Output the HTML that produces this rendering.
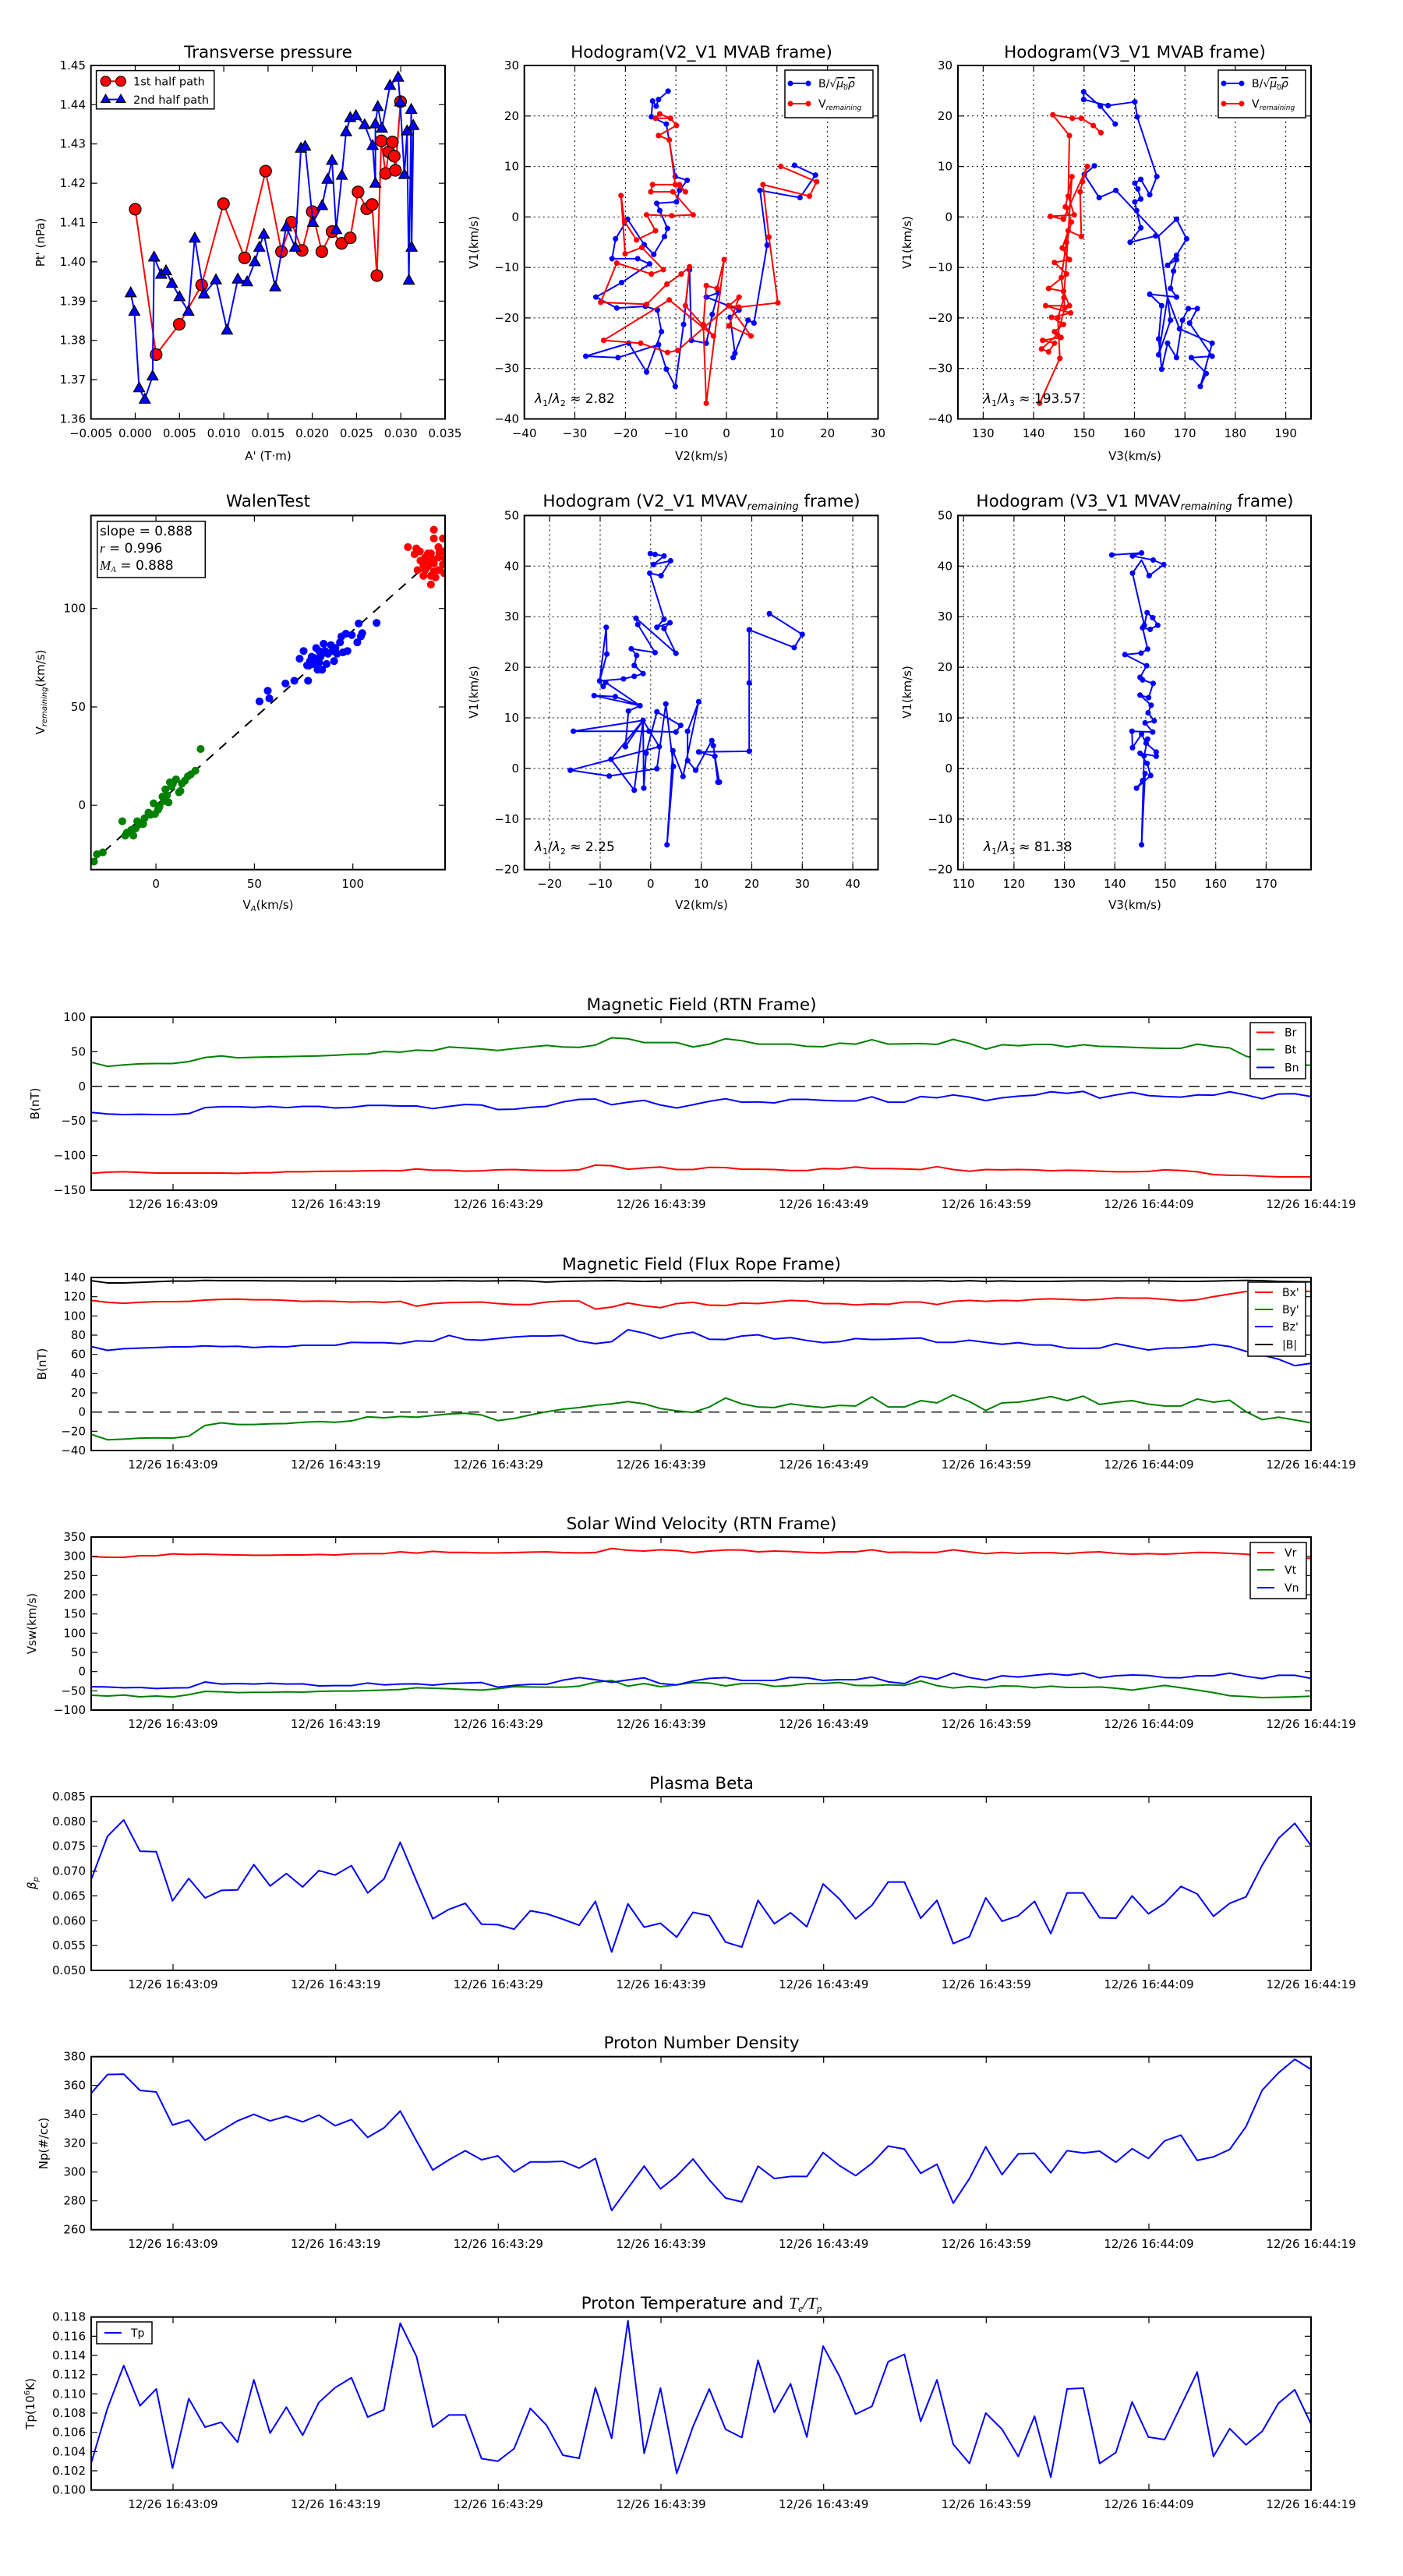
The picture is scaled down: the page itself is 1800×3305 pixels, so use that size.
<!DOCTYPE html>
<html><head><meta charset="utf-8"><style>
html,body{margin:0;padding:0;background:#fff;}
svg text{font-family:"DejaVu Sans","Liberation Sans",sans-serif;fill:#000;}
.t{font-size:15px}
.ti{font-size:21.5px}
.lb{font-size:15px}
.ln{fill:none;stroke-width:2;vector-effect:non-scaling-stroke;stroke-linejoin:round}
.ax{fill:none;stroke:#000;stroke-width:2}
.tk{fill:none;stroke:#000;stroke-width:1.2}
.gr{fill:none;stroke:#000;stroke-width:1;stroke-dasharray:2,4}
</style></head><body>
<svg xmlns="http://www.w3.org/2000/svg" xmlns:xlink="http://www.w3.org/1999/xlink" width="1800" height="3300" viewBox="0 0 1800 3300">
<defs>
<g id="rc" transform="scale(0.00008805,-0.00019846)"><circle r="7.5" fill="#f00" stroke="#000" stroke-width="1.2"/></g>
<g id="bt" transform="scale(0.00008805,-0.00019846)"><path d="M0,-7.5 L7,5 L-7,5Z" fill="#00f" stroke="#000" stroke-width="1.2"/></g>
<clipPath id="cA"><rect x="116.7" y="84" width="454.3" height="453.5"/></clipPath>
<clipPath id="cB"><rect x="672.7" y="84" width="453.8" height="453.5"/></clipPath>
<clipPath id="cC"><rect x="1229" y="84" width="453" height="453.5"/></clipPath>
<clipPath id="cD"><rect x="116.7" y="661.4" width="454.3" height="454.3"/></clipPath>
<clipPath id="cE"><rect x="672.7" y="661.4" width="453.8" height="454.3"/></clipPath>
<clipPath id="cF"><rect x="1229" y="661.4" width="453" height="454.3"/></clipPath>
<clipPath id="cT"><rect x="117" y="1290" width="1566" height="1920"/></clipPath>
</defs>

<!-- ============ Transverse pressure ============ -->
<text class="ti" x="344" y="74" text-anchor="middle">Transverse pressure</text>
<g clip-path="url(#cA)"><g transform="matrix(11357.5 0 0 -5038.9 173.5 7390.4)">
<polyline class="ln" stroke="#f00" points="0,1.4134 0.00236,1.3764 0.00497,1.3841 0.0075,1.3941 0.00997,1.4148 0.01236,1.401 0.01473,1.4231 0.01652,1.4026 0.01764,1.4101 0.01885,1.4029 0.02,1.4128 0.02108,1.4026 0.02223,1.4077 0.02331,1.4047 0.02429,1.4061 0.02517,1.4178 0.02615,1.4135 0.02676,1.4146 0.0273,1.3965 0.0278,1.4308 0.02828,1.4225 0.02865,1.428 0.02905,1.4305 0.02926,1.4269 0.02939,1.4233 0.02997,1.4408"/>
<use xlink:href="#rc" x="0" y="1.4134"/><use xlink:href="#rc" x="0.00236" y="1.3764"/><use xlink:href="#rc" x="0.00497" y="1.3841"/><use xlink:href="#rc" x="0.0075" y="1.3941"/><use xlink:href="#rc" x="0.00997" y="1.4148"/><use xlink:href="#rc" x="0.01236" y="1.401"/><use xlink:href="#rc" x="0.01473" y="1.4231"/><use xlink:href="#rc" x="0.01652" y="1.4026"/><use xlink:href="#rc" x="0.01764" y="1.4101"/><use xlink:href="#rc" x="0.01885" y="1.4029"/><use xlink:href="#rc" x="0.02" y="1.4128"/><use xlink:href="#rc" x="0.02108" y="1.4026"/><use xlink:href="#rc" x="0.02223" y="1.4077"/><use xlink:href="#rc" x="0.02331" y="1.4047"/><use xlink:href="#rc" x="0.02429" y="1.4061"/><use xlink:href="#rc" x="0.02517" y="1.4178"/><use xlink:href="#rc" x="0.02615" y="1.4135"/><use xlink:href="#rc" x="0.02676" y="1.4146"/><use xlink:href="#rc" x="0.0273" y="1.3965"/><use xlink:href="#rc" x="0.0278" y="1.4308"/><use xlink:href="#rc" x="0.02828" y="1.4225"/><use xlink:href="#rc" x="0.02865" y="1.428"/><use xlink:href="#rc" x="0.02905" y="1.4305"/><use xlink:href="#rc" x="0.02926" y="1.4269"/><use xlink:href="#rc" x="0.02939" y="1.4233"/><use xlink:href="#rc" x="0.02997" y="1.4408"/>
<polyline class="ln" stroke="#00f" points="-0.00051,1.3921 -0.0001,1.3874 0.00044,1.3679 0.00108,1.365 0.00196,1.3709 0.00213,1.4012 0.00294,1.3968 0.00348,1.3977 0.00416,1.3945 0.005,1.3911 0.00601,1.3874 0.00672,1.406 0.00777,1.3918 0.00912,1.3954 0.01037,1.3826 0.01159,1.3956 0.01264,1.3949 0.01351,1.4 0.01402,1.4037 0.01453,1.407 0.01581,1.3936 0.01706,1.4089 0.01807,1.4037 0.01872,1.4289 0.01919,1.4294 0.02007,1.41 0.02111,1.4143 0.02172,1.421 0.02223,1.4258 0.0227,1.4082 0.02334,1.422 0.02382,1.4331 0.02429,1.4367 0.02493,1.4372 0.02591,1.4349 0.02682,1.4296 0.02713,1.42 0.02713,1.4351 0.0274,1.4395 0.02787,1.434 0.02878,1.4449 0.0297,1.447 0.02993,1.4407 0.0304,1.4222 0.03071,1.4333 0.03091,1.3953 0.03118,1.4388 0.03122,1.4037 0.03142,1.4347"/>
<use xlink:href="#bt" x="-0.00051" y="1.3921"/><use xlink:href="#bt" x="-0.0001" y="1.3874"/><use xlink:href="#bt" x="0.00044" y="1.3679"/><use xlink:href="#bt" x="0.00108" y="1.365"/><use xlink:href="#bt" x="0.00196" y="1.3709"/><use xlink:href="#bt" x="0.00213" y="1.4012"/><use xlink:href="#bt" x="0.00294" y="1.3968"/><use xlink:href="#bt" x="0.00348" y="1.3977"/><use xlink:href="#bt" x="0.00416" y="1.3945"/><use xlink:href="#bt" x="0.005" y="1.3911"/><use xlink:href="#bt" x="0.00601" y="1.3874"/><use xlink:href="#bt" x="0.00672" y="1.406"/><use xlink:href="#bt" x="0.00777" y="1.3918"/><use xlink:href="#bt" x="0.00912" y="1.3954"/><use xlink:href="#bt" x="0.01037" y="1.3826"/><use xlink:href="#bt" x="0.01159" y="1.3956"/><use xlink:href="#bt" x="0.01264" y="1.3949"/><use xlink:href="#bt" x="0.01351" y="1.4"/><use xlink:href="#bt" x="0.01402" y="1.4037"/><use xlink:href="#bt" x="0.01453" y="1.407"/><use xlink:href="#bt" x="0.01581" y="1.3936"/><use xlink:href="#bt" x="0.01706" y="1.4089"/><use xlink:href="#bt" x="0.01807" y="1.4037"/><use xlink:href="#bt" x="0.01872" y="1.4289"/><use xlink:href="#bt" x="0.01919" y="1.4294"/><use xlink:href="#bt" x="0.02007" y="1.41"/><use xlink:href="#bt" x="0.02111" y="1.4143"/><use xlink:href="#bt" x="0.02172" y="1.421"/><use xlink:href="#bt" x="0.02223" y="1.4258"/><use xlink:href="#bt" x="0.0227" y="1.4082"/><use xlink:href="#bt" x="0.02334" y="1.422"/><use xlink:href="#bt" x="0.02382" y="1.4331"/><use xlink:href="#bt" x="0.02429" y="1.4367"/><use xlink:href="#bt" x="0.02493" y="1.4372"/><use xlink:href="#bt" x="0.02591" y="1.4349"/><use xlink:href="#bt" x="0.02682" y="1.4296"/><use xlink:href="#bt" x="0.02713" y="1.42"/><use xlink:href="#bt" x="0.02713" y="1.4351"/><use xlink:href="#bt" x="0.0274" y="1.4395"/><use xlink:href="#bt" x="0.02787" y="1.434"/><use xlink:href="#bt" x="0.02878" y="1.4449"/><use xlink:href="#bt" x="0.0297" y="1.447"/><use xlink:href="#bt" x="0.02993" y="1.4407"/><use xlink:href="#bt" x="0.0304" y="1.4222"/><use xlink:href="#bt" x="0.03071" y="1.4333"/><use xlink:href="#bt" x="0.03091" y="1.3953"/><use xlink:href="#bt" x="0.03118" y="1.4388"/><use xlink:href="#bt" x="0.03122" y="1.4037"/><use xlink:href="#bt" x="0.03142" y="1.4347"/>
</g></g>
<rect class="ax" x="116.7" y="84" width="454.3" height="453.5"/>
<path class="tk" d="M173.5,537.5v-8M230.3,537.5v-8M287.1,537.5v-8M343.9,537.5v-8M400.6,537.5v-8M457.4,537.5v-8M514.2,537.5v-8M173.5,84v8M230.3,84v8M287.1,84v8M343.9,84v8M400.6,84v8M457.4,84v8M514.2,84v8M116.7,487.1h8M116.7,436.7h8M116.7,386.3h8M116.7,335.9h8M116.7,285.5h8M116.7,235.1h8M116.7,184.7h8M116.7,134.3h8M571,487.1h-8M571,436.7h-8M571,386.3h-8M571,335.9h-8M571,285.5h-8M571,235.1h-8M571,184.7h-8M571,134.3h-8"/>
<g class="t" text-anchor="end"><text x="110" y="542.5">1.36</text><text x="110" y="492.1">1.37</text><text x="110" y="441.7">1.38</text><text x="110" y="391.3">1.39</text><text x="110" y="340.9">1.40</text><text x="110" y="290.5">1.41</text><text x="110" y="240.1">1.42</text><text x="110" y="189.7">1.43</text><text x="110" y="139.3">1.44</text><text x="110" y="89">1.45</text></g>
<g class="t" text-anchor="middle"><text x="116.7" y="561">−0.005</text><text x="173.5" y="561">0.000</text><text x="230.3" y="561">0.005</text><text x="287.1" y="561">0.010</text><text x="343.9" y="561">0.015</text><text x="400.6" y="561">0.020</text><text x="457.4" y="561">0.025</text><text x="514.2" y="561">0.030</text><text x="571" y="561">0.035</text></g>
<text class="lb" x="344" y="590" text-anchor="middle">A' (T·m)</text>
<text class="lb" transform="translate(57,311) rotate(-90)" text-anchor="middle">Pt' (nPa)</text>
<rect x="123.6" y="90.6" width="151.2" height="49.2" fill="#fff" stroke="#000" stroke-width="1.5"/>
<line x1="135.5" y1="104.3" x2="155" y2="104.3" stroke="#f00" stroke-width="2"/><circle cx="135.5" cy="104.3" r="6.5" fill="#f00" stroke="#000"/><circle cx="155" cy="104.3" r="6.5" fill="#f00" stroke="#000"/>
<text x="171" y="109.5" style="font-size:14.5px">1st half path</text>
<line x1="135.5" y1="127.6" x2="155" y2="127.6" stroke="#00f" stroke-width="2"/><path d="M135.5,121 l6,10.5 h-12z M155,121 l6,10.5 h-12z" fill="#00f" stroke="#000"/>
<text x="171" y="132.8" style="font-size:14.5px">2nd half path</text>

<!-- ============ Hodogram V2_V1 MVAB ============ -->
<text class="ti" x="900" y="74" text-anchor="middle">Hodogram(V2_V1 MVAB frame)</text>
<path class="gr" d="M737.5,84V537.5M802.4,84V537.5M867.2,84V537.5M932,84V537.5M996.8,84V537.5M1061.7,84V537.5M672.7,148.8H1126.5M672.7,213.6H1126.5M672.7,278.4H1126.5M672.7,343.1H1126.5M672.7,407.9H1126.5M672.7,472.7H1126.5"/>
<g clip-path="url(#cB)"><g transform="matrix(6.4829 0 0 -6.4786 932 278.4)">
<polyline class="ln" stroke="#00f" points="-11.55,24.92 -13.44,23.26 -13.91,21.95 -14.62,22.98 -14.85,19.84 -11.9,18.41 -10.13,8.01 -7.77,7.27 -9.3,5.27 -9.89,2.99 -13.79,2.7 -13.2,1.27 -11.67,-2.27 -12.26,-3.87 -14.38,-7.41 -16.27,-5.47 -19.57,-0.44 -21.94,-4.32 -22.64,-8.26 -17.57,-8.26 -15.21,-9.29 -20.76,-13 -25.83,-15.86 -21.7,-18.03 -16.03,-17.69 -13.67,-18.43 -12.85,-22.71 -15.8,-30.71 -19.34,-25 -27.84,-27.57 -21.46,-27.85 -13.44,-25.28 -11.9,-30.14 -10.13,-33.56 -8.48,-21.28 -7.3,-10.43 -6.94,-24.43 -3.99,-25 -2.81,-19.29 -1.63,-15 -3.99,-15.86 0.38,-17.57 2.5,-18.43 0.73,-19.86 1.68,-27 1.32,-27.85 4.27,-20.43 5.45,-21 8.05,-5.58 6.64,5.27 14.55,3.84 17.61,8.3 13.48,10.24"/>
<g fill="#00f"><circle cx="-11.55" cy="24.92" r="0.55"/><circle cx="-13.44" cy="23.26" r="0.55"/><circle cx="-13.91" cy="21.95" r="0.55"/><circle cx="-14.62" cy="22.98" r="0.55"/><circle cx="-14.85" cy="19.84" r="0.55"/><circle cx="-11.9" cy="18.41" r="0.55"/><circle cx="-10.13" cy="8.01" r="0.55"/><circle cx="-7.77" cy="7.27" r="0.55"/><circle cx="-9.3" cy="5.27" r="0.55"/><circle cx="-9.89" cy="2.99" r="0.55"/><circle cx="-13.79" cy="2.7" r="0.55"/><circle cx="-13.2" cy="1.27" r="0.55"/><circle cx="-11.67" cy="-2.27" r="0.55"/><circle cx="-12.26" cy="-3.87" r="0.55"/><circle cx="-14.38" cy="-7.41" r="0.55"/><circle cx="-16.27" cy="-5.47" r="0.55"/><circle cx="-19.57" cy="-0.44" r="0.55"/><circle cx="-21.94" cy="-4.32" r="0.55"/><circle cx="-22.64" cy="-8.26" r="0.55"/><circle cx="-17.57" cy="-8.26" r="0.55"/><circle cx="-15.21" cy="-9.29" r="0.55"/><circle cx="-20.76" cy="-13" r="0.55"/><circle cx="-25.83" cy="-15.86" r="0.55"/><circle cx="-21.7" cy="-18.03" r="0.55"/><circle cx="-16.03" cy="-17.69" r="0.55"/><circle cx="-13.67" cy="-18.43" r="0.55"/><circle cx="-12.85" cy="-22.71" r="0.55"/><circle cx="-15.8" cy="-30.71" r="0.55"/><circle cx="-19.34" cy="-25" r="0.55"/><circle cx="-27.84" cy="-27.57" r="0.55"/><circle cx="-21.46" cy="-27.85" r="0.55"/><circle cx="-13.44" cy="-25.28" r="0.55"/><circle cx="-11.9" cy="-30.14" r="0.55"/><circle cx="-10.13" cy="-33.56" r="0.55"/><circle cx="-8.48" cy="-21.28" r="0.55"/><circle cx="-7.3" cy="-10.43" r="0.55"/><circle cx="-6.94" cy="-24.43" r="0.55"/><circle cx="-3.99" cy="-25" r="0.55"/><circle cx="-2.81" cy="-19.29" r="0.55"/><circle cx="-1.63" cy="-15" r="0.55"/><circle cx="-3.99" cy="-15.86" r="0.55"/><circle cx="0.38" cy="-17.57" r="0.55"/><circle cx="2.5" cy="-18.43" r="0.55"/><circle cx="0.73" cy="-19.86" r="0.55"/><circle cx="1.68" cy="-27" r="0.55"/><circle cx="1.32" cy="-27.85" r="0.55"/><circle cx="4.27" cy="-20.43" r="0.55"/><circle cx="5.45" cy="-21" r="0.55"/><circle cx="8.05" cy="-5.58" r="0.55"/><circle cx="6.64" cy="5.27" r="0.55"/><circle cx="14.55" cy="3.84" r="0.55"/><circle cx="17.61" cy="8.3" r="0.55"/><circle cx="13.48" cy="10.24" r="0.55"/></g>
<polyline class="ln" stroke="#f00" points="-9.89,18.12 -11.07,19.55 -13.2,20.41 -14.03,19.55 -11.07,19.55 -9.89,18.12 -13.44,16.12 -11.31,15.27 -10.13,6.41 -8.12,4.99 -9.3,6.41 -14.62,6.41 -14.97,4.99 -10.6,4.99 -6.59,0.42 -10.84,0.25 -15.8,0.42 -14.03,-2.72 -17.8,-4.55 -20.17,-0.9 -20.87,4.24 -20.05,-7.29 -16.74,-6.04 -12.49,-10.43 -14.85,-11.29 -21.7,-9.12 -24.89,-16.89 -15.8,-17.29 -11.78,-13.29 -8.95,-11.29 -7.3,-9.86 -8.12,-17.57 -4.58,-21.57 -3.99,-13.58 -1.87,-14.15 -0.45,-8.44 -3.99,-36.88 -4.58,-21.28 -2.57,-23.57 -11.31,-16.43 -24.3,-24.43 -16.98,-25 -11.67,-26.83 -9.66,-26.43 2.5,-15.86 0.5,-21.57 4.86,-23.57 0.5,-17.57 2.5,-17.86 10.18,-17 8.41,-3.98 7.23,6.41 16.43,4.13 17.85,6.98 10.77,10.01"/>
<g fill="#f00"><circle cx="-9.89" cy="18.12" r="0.55"/><circle cx="-11.07" cy="19.55" r="0.55"/><circle cx="-13.2" cy="20.41" r="0.55"/><circle cx="-14.03" cy="19.55" r="0.55"/><circle cx="-13.44" cy="16.12" r="0.55"/><circle cx="-11.31" cy="15.27" r="0.55"/><circle cx="-10.13" cy="6.41" r="0.55"/><circle cx="-8.12" cy="4.99" r="0.55"/><circle cx="-9.3" cy="6.41" r="0.55"/><circle cx="-14.62" cy="6.41" r="0.55"/><circle cx="-14.97" cy="4.99" r="0.55"/><circle cx="-10.6" cy="4.99" r="0.55"/><circle cx="-6.59" cy="0.42" r="0.55"/><circle cx="-10.84" cy="0.25" r="0.55"/><circle cx="-15.8" cy="0.42" r="0.55"/><circle cx="-14.03" cy="-2.72" r="0.55"/><circle cx="-17.8" cy="-4.55" r="0.55"/><circle cx="-20.17" cy="-0.9" r="0.55"/><circle cx="-20.87" cy="4.24" r="0.55"/><circle cx="-20.05" cy="-7.29" r="0.55"/><circle cx="-16.74" cy="-6.04" r="0.55"/><circle cx="-12.49" cy="-10.43" r="0.55"/><circle cx="-14.85" cy="-11.29" r="0.55"/><circle cx="-21.7" cy="-9.12" r="0.55"/><circle cx="-24.89" cy="-16.89" r="0.55"/><circle cx="-15.8" cy="-17.29" r="0.55"/><circle cx="-11.78" cy="-13.29" r="0.55"/><circle cx="-8.95" cy="-11.29" r="0.55"/><circle cx="-7.3" cy="-9.86" r="0.55"/><circle cx="-8.12" cy="-17.57" r="0.55"/><circle cx="-4.58" cy="-21.57" r="0.55"/><circle cx="-3.99" cy="-13.58" r="0.55"/><circle cx="-1.87" cy="-14.15" r="0.55"/><circle cx="-0.45" cy="-8.44" r="0.55"/><circle cx="-3.99" cy="-36.88" r="0.55"/><circle cx="-4.58" cy="-21.28" r="0.55"/><circle cx="-2.57" cy="-23.57" r="0.55"/><circle cx="-11.31" cy="-16.43" r="0.55"/><circle cx="-24.3" cy="-24.43" r="0.55"/><circle cx="-16.98" cy="-25" r="0.55"/><circle cx="-11.67" cy="-26.83" r="0.55"/><circle cx="-9.66" cy="-26.43" r="0.55"/><circle cx="2.5" cy="-15.86" r="0.55"/><circle cx="0.5" cy="-21.57" r="0.55"/><circle cx="4.86" cy="-23.57" r="0.55"/><circle cx="0.5" cy="-17.57" r="0.55"/><circle cx="2.5" cy="-17.86" r="0.55"/><circle cx="10.18" cy="-17" r="0.55"/><circle cx="8.41" cy="-3.98" r="0.55"/><circle cx="7.23" cy="6.41" r="0.55"/><circle cx="16.43" cy="4.13" r="0.55"/><circle cx="17.85" cy="6.98" r="0.55"/><circle cx="10.77" cy="10.01" r="0.55"/></g>
</g></g>
<rect class="ax" x="672.7" y="84" width="453.8" height="453.5"/>
<path class="tk" d="M737.5,537.5v-8M802.4,537.5v-8M867.2,537.5v-8M932,537.5v-8M996.8,537.5v-8M1061.7,537.5v-8M737.5,84v8M802.4,84v8M867.2,84v8M932,84v8M996.8,84v8M1061.7,84v8M672.7,148.8h8M672.7,213.6h8M672.7,278.4h8M672.7,343.1h8M672.7,407.9h8M672.7,472.7h8M1126.5,148.8h-8M1126.5,213.6h-8M1126.5,278.4h-8M1126.5,343.1h-8M1126.5,407.9h-8M1126.5,472.7h-8"/>
<g class="t" text-anchor="end"><text x="666" y="89">30</text><text x="666" y="153.8">20</text><text x="666" y="218.6">10</text><text x="666" y="283.4">0</text><text x="666" y="348.1">−10</text><text x="666" y="412.9">−20</text><text x="666" y="477.7">−30</text><text x="666" y="542.5">−40</text></g>
<g class="t" text-anchor="middle"><text x="672.7" y="561">−40</text><text x="737.5" y="561">−30</text><text x="802.4" y="561">−20</text><text x="867.2" y="561">−10</text><text x="932" y="561">0</text><text x="996.8" y="561">10</text><text x="1061.7" y="561">20</text><text x="1126.5" y="561">30</text></g>
<text class="lb" x="900" y="590" text-anchor="middle">V2(km/s)</text>
<text class="lb" transform="translate(613,311) rotate(-90)" text-anchor="middle">V1(km/s)</text>
<text x="686" y="517" style="font-size:17px"><tspan font-style="italic">λ</tspan><tspan font-size="11" dy="4">1</tspan><tspan dy="-4">/</tspan><tspan font-style="italic">λ</tspan><tspan font-size="11" dy="4">2</tspan><tspan dy="-4"> ≈ 2.82</tspan></text>
<rect x="1007" y="90" width="113" height="61" fill="#fff" stroke="#000" stroke-width="1.5"/>
<line x1="1014" y1="107" x2="1037" y2="107" stroke="#00f" stroke-width="2"/><circle cx="1014" cy="107" r="3.5" fill="#00f"/><circle cx="1037" cy="107" r="3.5" fill="#00f"/>
<text x="1050" y="112" style="font-size:14px">B/√<tspan text-decoration="overline" font-style="italic">μ<tspan font-size="9" dy="3">0</tspan><tspan dy="-3">ρ</tspan></tspan></text>
<line x1="1014" y1="133" x2="1037" y2="133" stroke="#f00" stroke-width="2"/><circle cx="1014" cy="133" r="3.5" fill="#f00"/><circle cx="1037" cy="133" r="3.5" fill="#f00"/>
<text x="1050" y="138" style="font-size:14px">V<tspan font-size="9" font-style="italic" dy="3">remaining</tspan></text>

<!-- ============ Hodogram V3_V1 MVAB ============ -->
<text class="ti" x="1456" y="74" text-anchor="middle">Hodogram(V3_V1 MVAB frame)</text>
<path class="gr" d="M1261.4,84V537.5M1326.1,84V537.5M1390.8,84V537.5M1455.5,84V537.5M1520.2,84V537.5M1584.9,84V537.5M1649.6,84V537.5M1229,148.8H1682M1229,213.6H1682M1229,278.4H1682M1229,343.1H1682M1229,407.9H1682M1229,472.7H1682"/>
<g clip-path="url(#cC)"><g transform="matrix(6.4714 0 0 -6.4786 420.1 278.4)">
<polyline class="ln" stroke="#00f" points="156.18,18.41 153.23,21.95 149.93,24.8 149.93,23.26 154.76,22.06 160.07,22.8 160.54,19.83 164.43,8.01 163.02,4.41 161.25,7.44 160.07,6.7 160.66,5.56 161.25,3.56 160.07,2.99 160.42,1.27 161.25,-2.15 159.13,-5.01 164.2,-3.75 164.79,-3.75 168.33,-0.44 170.33,-4.32 168.33,-7.58 166.56,-9.58 168.33,-8.44 167.74,-10.72 167.15,-14.15 168.33,-15.86 163.02,-15.29 165.38,-17.57 164.79,-24.14 165.38,-30.14 166.56,-25 168.33,-27.85 169.5,-20.43 170.68,-18.14 172.45,-18.14 170.92,-21 175.4,-27.57 171.27,-27.85 174.22,-31 173.04,-33.56 175.4,-25 168.92,-22.14 166.56,-15.86 164.79,-27.28 167.15,-20.43 164.79,-3.75 156.3,5.27 153,3.84 150.05,8.41 152.05,10.13"/>
<g fill="#00f"><circle cx="156.18" cy="18.41" r="0.55"/><circle cx="153.23" cy="21.95" r="0.55"/><circle cx="149.93" cy="24.8" r="0.55"/><circle cx="149.93" cy="23.26" r="0.55"/><circle cx="154.76" cy="22.06" r="0.55"/><circle cx="160.07" cy="22.8" r="0.55"/><circle cx="160.54" cy="19.83" r="0.55"/><circle cx="164.43" cy="8.01" r="0.55"/><circle cx="163.02" cy="4.41" r="0.55"/><circle cx="161.25" cy="7.44" r="0.55"/><circle cx="160.07" cy="6.7" r="0.55"/><circle cx="160.66" cy="5.56" r="0.55"/><circle cx="161.25" cy="3.56" r="0.55"/><circle cx="160.07" cy="2.99" r="0.55"/><circle cx="160.42" cy="1.27" r="0.55"/><circle cx="161.25" cy="-2.15" r="0.55"/><circle cx="159.13" cy="-5.01" r="0.55"/><circle cx="164.2" cy="-3.75" r="0.55"/><circle cx="168.33" cy="-0.44" r="0.55"/><circle cx="170.33" cy="-4.32" r="0.55"/><circle cx="168.33" cy="-7.58" r="0.55"/><circle cx="166.56" cy="-9.58" r="0.55"/><circle cx="168.33" cy="-8.44" r="0.55"/><circle cx="167.74" cy="-10.72" r="0.55"/><circle cx="167.15" cy="-14.15" r="0.55"/><circle cx="168.33" cy="-15.86" r="0.55"/><circle cx="163.02" cy="-15.29" r="0.55"/><circle cx="165.38" cy="-17.57" r="0.55"/><circle cx="164.79" cy="-24.14" r="0.55"/><circle cx="165.38" cy="-30.14" r="0.55"/><circle cx="166.56" cy="-25" r="0.55"/><circle cx="168.33" cy="-27.85" r="0.55"/><circle cx="169.5" cy="-20.43" r="0.55"/><circle cx="170.68" cy="-18.14" r="0.55"/><circle cx="172.45" cy="-18.14" r="0.55"/><circle cx="170.92" cy="-21" r="0.55"/><circle cx="175.4" cy="-27.57" r="0.55"/><circle cx="171.27" cy="-27.85" r="0.55"/><circle cx="174.22" cy="-31" r="0.55"/><circle cx="173.04" cy="-33.56" r="0.55"/><circle cx="175.4" cy="-25" r="0.55"/><circle cx="168.92" cy="-22.14" r="0.55"/><circle cx="164.79" cy="-27.28" r="0.55"/><circle cx="167.15" cy="-20.43" r="0.55"/><circle cx="156.3" cy="5.27" r="0.55"/><circle cx="153" cy="3.84" r="0.55"/><circle cx="150.05" cy="8.41" r="0.55"/><circle cx="152.05" cy="10.13" r="0.55"/></g>
<polyline class="ln" stroke="#f00" points="153.35,16.69 151.82,18.12 149.46,19.55 147.69,19.55 143.8,20.24 147.1,16.12 146.86,4.13 148.04,0.42 143.33,0.13 145.92,-0.44 150.64,10.01 149.69,6.98 149.22,4.99 149.46,-3.87 146.86,-2.72 145.68,-6.15 147.1,-8.44 144.14,-9.01 146.51,-11.29 142.97,-14.15 145.92,-14.72 147.1,-17.57 142.38,-17.57 147.33,-19 143.56,-19.86 145.92,-21.28 144.14,-22.71 145.44,-23.86 141.79,-24.43 144.14,-25 142.97,-26.71 141.56,-26.14 144.73,-23.28 146.2,-18 145.5,-12 146.5,-5 147.5,-1 146.3,2 147.6,8 146,-16 144.8,-20 145.2,-28 141.2,-36.88"/>
<g fill="#f00"><circle cx="153.35" cy="16.69" r="0.55"/><circle cx="151.82" cy="18.12" r="0.55"/><circle cx="149.46" cy="19.55" r="0.55"/><circle cx="147.69" cy="19.55" r="0.55"/><circle cx="143.8" cy="20.24" r="0.55"/><circle cx="147.1" cy="16.12" r="0.55"/><circle cx="146.86" cy="4.13" r="0.55"/><circle cx="148.04" cy="0.42" r="0.55"/><circle cx="143.33" cy="0.13" r="0.55"/><circle cx="145.92" cy="-0.44" r="0.55"/><circle cx="150.64" cy="10.01" r="0.55"/><circle cx="149.69" cy="6.98" r="0.55"/><circle cx="149.22" cy="4.99" r="0.55"/><circle cx="149.46" cy="-3.87" r="0.55"/><circle cx="146.86" cy="-2.72" r="0.55"/><circle cx="145.68" cy="-6.15" r="0.55"/><circle cx="147.1" cy="-8.44" r="0.55"/><circle cx="144.14" cy="-9.01" r="0.55"/><circle cx="146.51" cy="-11.29" r="0.55"/><circle cx="142.97" cy="-14.15" r="0.55"/><circle cx="145.92" cy="-14.72" r="0.55"/><circle cx="147.1" cy="-17.57" r="0.55"/><circle cx="142.38" cy="-17.57" r="0.55"/><circle cx="147.33" cy="-19" r="0.55"/><circle cx="143.56" cy="-19.86" r="0.55"/><circle cx="145.92" cy="-21.28" r="0.55"/><circle cx="144.14" cy="-22.71" r="0.55"/><circle cx="145.44" cy="-23.86" r="0.55"/><circle cx="141.79" cy="-24.43" r="0.55"/><circle cx="144.14" cy="-25" r="0.55"/><circle cx="142.97" cy="-26.71" r="0.55"/><circle cx="141.56" cy="-26.14" r="0.55"/><circle cx="144.73" cy="-23.28" r="0.55"/><circle cx="146.2" cy="-18" r="0.55"/><circle cx="145.5" cy="-12" r="0.55"/><circle cx="146.5" cy="-5" r="0.55"/><circle cx="147.5" cy="-1" r="0.55"/><circle cx="146.3" cy="2" r="0.55"/><circle cx="147.6" cy="8" r="0.55"/><circle cx="146" cy="-16" r="0.55"/><circle cx="144.8" cy="-20" r="0.55"/><circle cx="145.2" cy="-28" r="0.55"/><circle cx="141.2" cy="-36.88" r="0.55"/></g>
</g></g>
<rect class="ax" x="1229" y="84" width="453" height="453.5"/>
<path class="tk" d="M1261.4,537.5v-8M1326.1,537.5v-8M1390.8,537.5v-8M1455.5,537.5v-8M1520.2,537.5v-8M1584.9,537.5v-8M1649.6,537.5v-8M1261.4,84v8M1326.1,84v8M1390.8,84v8M1455.5,84v8M1520.2,84v8M1584.9,84v8M1649.6,84v8M1229,148.8h8M1229,213.6h8M1229,278.4h8M1229,343.1h8M1229,407.9h8M1229,472.7h8M1682,148.8h-8M1682,213.6h-8M1682,278.4h-8M1682,343.1h-8M1682,407.9h-8M1682,472.7h-8"/>
<g class="t" text-anchor="end"><text x="1222" y="89">30</text><text x="1222" y="153.8">20</text><text x="1222" y="218.6">10</text><text x="1222" y="283.4">0</text><text x="1222" y="348.1">−10</text><text x="1222" y="412.9">−20</text><text x="1222" y="477.7">−30</text><text x="1222" y="542.5">−40</text></g>
<g class="t" text-anchor="middle"><text x="1261.4" y="561">130</text><text x="1326.1" y="561">140</text><text x="1390.8" y="561">150</text><text x="1455.5" y="561">160</text><text x="1520.2" y="561">170</text><text x="1584.9" y="561">180</text><text x="1649.6" y="561">190</text></g>
<text class="lb" x="1456" y="590" text-anchor="middle">V3(km/s)</text>
<text class="lb" transform="translate(1169,311) rotate(-90)" text-anchor="middle">V1(km/s)</text>
<text x="1262" y="517" style="font-size:17px"><tspan font-style="italic">λ</tspan><tspan font-size="11" dy="4">1</tspan><tspan dy="-4">/</tspan><tspan font-style="italic">λ</tspan><tspan font-size="11" dy="4">3</tspan><tspan dy="-4"> ≈ 193.57</tspan></text>
<rect x="1563" y="90" width="112" height="61" fill="#fff" stroke="#000" stroke-width="1.5"/>
<line x1="1570" y1="107" x2="1593" y2="107" stroke="#00f" stroke-width="2"/><circle cx="1570" cy="107" r="3.5" fill="#00f"/><circle cx="1593" cy="107" r="3.5" fill="#00f"/>
<text x="1606" y="112" style="font-size:14px">B/√<tspan text-decoration="overline" font-style="italic">μ<tspan font-size="9" dy="3">0</tspan><tspan dy="-3">ρ</tspan></tspan></text>
<line x1="1570" y1="133" x2="1593" y2="133" stroke="#f00" stroke-width="2"/><circle cx="1570" cy="133" r="3.5" fill="#f00"/><circle cx="1593" cy="133" r="3.5" fill="#f00"/>
<text x="1606" y="138" style="font-size:14px">V<tspan font-size="9" font-style="italic" dy="3">remaining</tspan></text>

<!-- ============ Walen ============ -->
<text class="ti" x="344" y="650" text-anchor="middle">WalenTest</text>
<g clip-path="url(#cD)">
<line x1="116.8" y1="1107.2" x2="571.3" y2="703.7" stroke="#000" stroke-width="2" stroke-dasharray="12,10"/>
<g transform="matrix(2.525 0 0 -2.525 200.1 1033.2)">
<g fill="#008000"><circle cx="22.7" cy="28.6" r="2"/><circle cx="20" cy="17.6" r="2"/><circle cx="17.7" cy="15.7" r="2"/><circle cx="16.2" cy="14.7" r="2"/><circle cx="14.7" cy="12.5" r="2"/><circle cx="12.4" cy="7.3" r="2"/><circle cx="10.2" cy="13.2" r="2"/><circle cx="7.9" cy="9.5" r="2"/><circle cx="6.4" cy="1.5" r="2"/><circle cx="4.8" cy="8.1" r="2"/><circle cx="5.6" cy="5.1" r="2"/><circle cx="3.3" cy="4.4" r="2"/><circle cx="1.1" cy="-2.2" r="2"/><circle cx="-1.2" cy="1" r="2"/><circle cx="-0.5" cy="-4.4" r="2"/><circle cx="-3.8" cy="-3.7" r="2"/><circle cx="-5.8" cy="-6.6" r="2"/><circle cx="-8" cy="-9.5" r="2"/><circle cx="-9.5" cy="-8.1" r="2"/><circle cx="-12.6" cy="-12.5" r="2"/><circle cx="-11.5" cy="-15.4" r="2"/><circle cx="-14.8" cy="-13.9" r="2"/><circle cx="-15.6" cy="-15.4" r="2"/><circle cx="-17.1" cy="-8.1" r="2"/><circle cx="-27" cy="-23.9" r="2"/><circle cx="-30" cy="-24.9" r="2"/><circle cx="-31.5" cy="-28.6" r="2"/><circle cx="11.7" cy="6.6" r="2"/><circle cx="13.2" cy="11" r="2"/><circle cx="8.6" cy="11" r="2"/><circle cx="7.1" cy="11.7" r="2"/><circle cx="4.1" cy="2.2" r="2"/><circle cx="1.8" cy="-0.7" r="2"/><circle cx="-2.7" cy="-4.8" r="2"/><circle cx="-6.5" cy="-9.5" r="2"/><circle cx="-10.3" cy="-11.7" r="2"/></g>
<g fill="#00f"><circle cx="52.6" cy="52.8" r="2"/><circle cx="56.8" cy="58.2" r="2"/><circle cx="57.6" cy="54.3" r="2"/><circle cx="65.8" cy="61.9" r="2"/><circle cx="70.3" cy="63.3" r="2"/><circle cx="77.3" cy="63.3" r="2"/><circle cx="73" cy="74.5" r="2"/><circle cx="75" cy="78.4" r="2"/><circle cx="77.6" cy="71.1" r="2"/><circle cx="79.1" cy="75.5" r="2"/><circle cx="81.4" cy="79.9" r="2"/><circle cx="82.1" cy="68.9" r="2"/><circle cx="84.4" cy="68.9" r="2"/><circle cx="83.6" cy="75.5" r="2"/><circle cx="85.2" cy="82.1" r="2"/><circle cx="86.7" cy="71.8" r="2"/><circle cx="87.4" cy="77" r="2"/><circle cx="88.9" cy="81.4" r="2"/><circle cx="90.5" cy="73.3" r="2"/><circle cx="92" cy="77" r="2"/><circle cx="93.5" cy="82.8" r="2"/><circle cx="95" cy="77.7" r="2"/><circle cx="97.3" cy="78.4" r="2"/><circle cx="94.2" cy="85.8" r="2"/><circle cx="96.5" cy="87.2" r="2"/><circle cx="99.5" cy="86.5" r="2"/><circle cx="102.3" cy="82.8" r="2"/><circle cx="104.1" cy="85.8" r="2"/><circle cx="104.8" cy="87.5" r="2"/><circle cx="103" cy="92.4" r="2"/><circle cx="112.1" cy="92.7" r="2"/><circle cx="80.6" cy="74.8" r="2"/><circle cx="82.9" cy="78.4" r="2"/><circle cx="85.9" cy="78.4" r="2"/><circle cx="89.7" cy="78.4" r="2"/><circle cx="91.2" cy="79.9" r="2"/><circle cx="78.3" cy="73.3" r="2"/><circle cx="76.8" cy="71.1" r="2"/><circle cx="79.8" cy="71.8" r="2"/><circle cx="82.9" cy="72.6" r="2"/></g>
<g fill="#f00"><circle cx="128" cy="131.2" r="2"/><circle cx="131.4" cy="127.6" r="2"/><circle cx="134.1" cy="129" r="2"/><circle cx="132.9" cy="119.5" r="2"/><circle cx="135.9" cy="116.6" r="2"/><circle cx="139.7" cy="112.2" r="2"/><circle cx="141.2" cy="140" r="2"/><circle cx="141.2" cy="135.6" r="2"/><circle cx="143.5" cy="131.2" r="2"/><circle cx="145.8" cy="135.6" r="2"/><circle cx="136.7" cy="125.9" r="2"/><circle cx="138.2" cy="121.4" r="2"/><circle cx="141.2" cy="122.9" r="2"/><circle cx="143.5" cy="125.9" r="2"/><circle cx="144.2" cy="119.5" r="2"/><circle cx="139.7" cy="116.6" r="2"/><circle cx="142" cy="115.8" r="2"/><circle cx="135.9" cy="122.1" r="2"/><circle cx="134.4" cy="124.3" r="2"/><circle cx="138.2" cy="128" r="2"/><circle cx="139.7" cy="128" r="2"/><circle cx="146.3" cy="129" r="2"/><circle cx="145.8" cy="122.4" r="2"/><circle cx="143.5" cy="119.5" r="2"/><circle cx="136.7" cy="119.5" r="2"/><circle cx="141.2" cy="118.8" r="2"/><circle cx="146.5" cy="117.9" r="2"/><circle cx="132.3" cy="130.5" r="2"/><circle cx="137.5" cy="124.5" r="2"/><circle cx="140.5" cy="125" r="2"/><circle cx="144" cy="128.5" r="2"/><circle cx="146.8" cy="125.5" r="2"/></g>
</g></g>
<rect class="ax" x="116.7" y="661.4" width="454.3" height="454.3"/>
<path class="tk" d="M200.1,1115.7v-8M326.4,1115.7v-8M452.7,1115.7v-8M200.1,661.4v8M326.4,661.4v8M452.7,661.4v8M116.7,1033.2h8M116.7,907h8M116.7,780.7h8M571,1033.2h-8M571,907h-8M571,780.7h-8"/>
<g class="t" text-anchor="end"><text x="110" y="1038.2">0</text><text x="110" y="912">50</text><text x="110" y="785.7">100</text></g>
<g class="t" text-anchor="middle"><text x="200.1" y="1139">0</text><text x="326.4" y="1139">50</text><text x="452.7" y="1139">100</text></g>
<text class="lb" x="344" y="1166" text-anchor="middle">V<tspan font-size="10" font-style="italic" dy="3">A</tspan><tspan dy="-3">(km/s)</tspan></text>
<text class="lb" transform="translate(57,888) rotate(-90)" text-anchor="middle">V<tspan font-size="10" font-style="italic" dy="3">remaining</tspan><tspan dy="-3">(km/s)</tspan></text>
<rect x="124.8" y="668.8" width="138.5" height="72.2" fill="#fff" stroke="#000" stroke-width="1.5"/>
<text x="128" y="687" style="font-size:17px">slope = 0.888</text>
<text x="128" y="709" style="font-size:17px"><tspan font-style="italic" font-family="Liberation Serif, serif">r</tspan> = 0.996</text>
<text x="128" y="731" style="font-size:17px"><tspan font-style="italic" font-family="Liberation Serif, serif">M<tspan font-size="11" dy="3">A</tspan></tspan><tspan dy="-3"> = 0.888</tspan></text>

<!-- ============ Hodogram V2 MVAV ============ -->
<text class="ti" x="900" y="650" text-anchor="middle">Hodogram (V2_V1 MVAV<tspan font-size="13" font-style="italic" dy="4">remaining</tspan><tspan dy="-4"> frame)</tspan></text>
<path class="gr" d="M705.1,661.4V1115.7M770,661.4V1115.7M834.8,661.4V1115.7M899.6,661.4V1115.7M964.5,661.4V1115.7M1029.3,661.4V1115.7M1094.1,661.4V1115.7M672.7,726.3H1126.5M672.7,791.2H1126.5M672.7,856.1H1126.5M672.7,921H1126.5M672.7,985.9H1126.5M672.7,1050.8H1126.5"/>
<g clip-path="url(#cE)"><g transform="matrix(6.4829 0 0 -6.49 834.8 985.9)">
<polyline class="ln" stroke="#00f" points="-0.07,42.47 0.87,42.3 2.64,42 0.52,40.3 3.94,41.05 2.05,38.1 -0.19,38.6 2.64,29.5 1.23,27.9 3.82,28.8 2.64,27.65 5,22.75 -2.9,29.7 -2.55,28.45 0.87,22.9 -3.84,23.65 -2.78,22.35 -3.25,20.35 -1.5,18.75 -3.25,18.2 -5.38,17.7 -10.1,17.3 -8.8,27.9 -8.68,22.6 -10.1,17.3 -9.4,16.2 -8.9,17 -2.1,12.4 -7,14.2 -11.2,14.4 -2.1,12.4 -4.4,11.35 -5,4.3 -1.5,9.5 -15.3,7.35 -0.3,7.35 5,7.2 5.94,8.5 1.23,11.2 -0.9,3 -1.37,-3.9 -1.5,9.5 -3.25,-4.3 -7.85,1.8 -1.5,9.5 1.7,4.3 -15.9,-0.35 -8.2,-1.5 1.23,-0.05 3,12.75 4.5,0.4 3.23,-15.1 4.4,3.5 6.4,-1.6 9.5,13.2 7.3,7.35 7.3,1.55 8.9,-0.35 12.1,5.5 12.4,4.5 13.3,-2.7 13.6,-2.7 12.7,2.4 9.5,3.25 19.5,3.4 19.5,16.9 19.5,27.4 28.4,23.9 30,26.5 23.5,30.6"/>
<g fill="#00f"><circle cx="-0.07" cy="42.47" r="0.55"/><circle cx="0.87" cy="42.3" r="0.55"/><circle cx="2.64" cy="42" r="0.55"/><circle cx="0.52" cy="40.3" r="0.55"/><circle cx="3.94" cy="41.05" r="0.55"/><circle cx="2.05" cy="38.1" r="0.55"/><circle cx="-0.19" cy="38.6" r="0.55"/><circle cx="2.64" cy="29.5" r="0.55"/><circle cx="1.23" cy="27.9" r="0.55"/><circle cx="3.82" cy="28.8" r="0.55"/><circle cx="2.64" cy="27.65" r="0.55"/><circle cx="5" cy="22.75" r="0.55"/><circle cx="-2.9" cy="29.7" r="0.55"/><circle cx="-2.55" cy="28.45" r="0.55"/><circle cx="0.87" cy="22.9" r="0.55"/><circle cx="-3.84" cy="23.65" r="0.55"/><circle cx="-2.78" cy="22.35" r="0.55"/><circle cx="-3.25" cy="20.35" r="0.55"/><circle cx="-1.5" cy="18.75" r="0.55"/><circle cx="-3.25" cy="18.2" r="0.55"/><circle cx="-5.38" cy="17.7" r="0.55"/><circle cx="-10.1" cy="17.3" r="0.55"/><circle cx="-8.8" cy="27.9" r="0.55"/><circle cx="-8.68" cy="22.6" r="0.55"/><circle cx="-9.4" cy="16.2" r="0.55"/><circle cx="-8.9" cy="17" r="0.55"/><circle cx="-2.1" cy="12.4" r="0.55"/><circle cx="-7" cy="14.2" r="0.55"/><circle cx="-11.2" cy="14.4" r="0.55"/><circle cx="-4.4" cy="11.35" r="0.55"/><circle cx="-5" cy="4.3" r="0.55"/><circle cx="-1.5" cy="9.5" r="0.55"/><circle cx="-15.3" cy="7.35" r="0.55"/><circle cx="-0.3" cy="7.35" r="0.55"/><circle cx="5" cy="7.2" r="0.55"/><circle cx="5.94" cy="8.5" r="0.55"/><circle cx="1.23" cy="11.2" r="0.55"/><circle cx="-0.9" cy="3" r="0.55"/><circle cx="-1.37" cy="-3.9" r="0.55"/><circle cx="-3.25" cy="-4.3" r="0.55"/><circle cx="-7.85" cy="1.8" r="0.55"/><circle cx="1.7" cy="4.3" r="0.55"/><circle cx="-15.9" cy="-0.35" r="0.55"/><circle cx="-8.2" cy="-1.5" r="0.55"/><circle cx="1.23" cy="-0.05" r="0.55"/><circle cx="3" cy="12.75" r="0.55"/><circle cx="4.5" cy="0.4" r="0.55"/><circle cx="3.23" cy="-15.1" r="0.55"/><circle cx="4.4" cy="3.5" r="0.55"/><circle cx="6.4" cy="-1.6" r="0.55"/><circle cx="9.5" cy="13.2" r="0.55"/><circle cx="7.3" cy="7.35" r="0.55"/><circle cx="7.3" cy="1.55" r="0.55"/><circle cx="8.9" cy="-0.35" r="0.55"/><circle cx="12.1" cy="5.5" r="0.55"/><circle cx="12.4" cy="4.5" r="0.55"/><circle cx="13.3" cy="-2.7" r="0.55"/><circle cx="13.6" cy="-2.7" r="0.55"/><circle cx="12.7" cy="2.4" r="0.55"/><circle cx="9.5" cy="3.25" r="0.55"/><circle cx="19.5" cy="3.4" r="0.55"/><circle cx="19.5" cy="16.9" r="0.55"/><circle cx="19.5" cy="27.4" r="0.55"/><circle cx="28.4" cy="23.9" r="0.55"/><circle cx="30" cy="26.5" r="0.55"/><circle cx="23.5" cy="30.6" r="0.55"/></g>
</g></g>
<rect class="ax" x="672.7" y="661.4" width="453.8" height="454.3"/>
<path class="tk" d="M705.1,1115.7v-8M770,1115.7v-8M834.8,1115.7v-8M899.6,1115.7v-8M964.5,1115.7v-8M1029.3,1115.7v-8M1094.1,1115.7v-8M705.1,661.4v8M770,661.4v8M834.8,661.4v8M899.6,661.4v8M964.5,661.4v8M1029.3,661.4v8M1094.1,661.4v8M672.7,726.3h8M672.7,791.2h8M672.7,856.1h8M672.7,921h8M672.7,985.9h8M672.7,1050.8h8M1126.5,726.3h-8M1126.5,791.2h-8M1126.5,856.1h-8M1126.5,921h-8M1126.5,985.9h-8M1126.5,1050.8h-8"/>
<g class="t" text-anchor="end"><text x="666" y="666.4">50</text><text x="666" y="731.3">40</text><text x="666" y="796.2">30</text><text x="666" y="861.1">20</text><text x="666" y="926">10</text><text x="666" y="990.9">0</text><text x="666" y="1055.8">−10</text><text x="666" y="1120.7">−20</text></g>
<g class="t" text-anchor="middle"><text x="705.1" y="1139">−20</text><text x="770" y="1139">−10</text><text x="834.8" y="1139">0</text><text x="899.6" y="1139">10</text><text x="964.5" y="1139">20</text><text x="1029.3" y="1139">30</text><text x="1094.1" y="1139">40</text></g>
<text class="lb" x="900" y="1166" text-anchor="middle">V2(km/s)</text>
<text class="lb" transform="translate(613,888) rotate(-90)" text-anchor="middle">V1(km/s)</text>
<text x="686" y="1092" style="font-size:17px"><tspan font-style="italic">λ</tspan><tspan font-size="11" dy="4">1</tspan><tspan dy="-4">/</tspan><tspan font-style="italic">λ</tspan><tspan font-size="11" dy="4">2</tspan><tspan dy="-4"> ≈ 2.25</tspan></text>

<!-- ============ Hodogram V3 MVAV ============ -->
<text class="ti" x="1456" y="650" text-anchor="middle">Hodogram (V3_V1 MVAV<tspan font-size="13" font-style="italic" dy="4">remaining</tspan><tspan dy="-4"> frame)</tspan></text>
<path class="gr" d="M1236.2,661.4V1115.7M1300.9,661.4V1115.7M1365.6,661.4V1115.7M1430.3,661.4V1115.7M1495,661.4V1115.7M1559.7,661.4V1115.7M1624.4,661.4V1115.7M1229,726.3H1682M1229,791.2H1682M1229,856.1H1682M1229,921H1682M1229,985.9H1682M1229,1050.8H1682"/>
<g clip-path="url(#cF)"><g transform="matrix(6.4714 0 0 -6.49 524.3 985.9)">
<polyline class="ln" stroke="#00f" points="139.4,42.2 145.3,42.6 143.5,42 147.6,41.2 149.7,40.3 146.8,38.1 145.3,41.2 143.5,38.6 145.85,28.3 146.4,30.8 147.5,29.8 148.5,28.3 147,27.5 145.5,27.8 146.5,23.6 145.2,22.8 142,22.5 146.3,20.3 145,18 145.5,17.5 147.6,16.8 146.7,14 145,14.5 147.2,12.5 146.6,11 147.8,9.4 146,9 147.5,7.2 143.4,7.35 143.5,4.1 145.3,6.8 146.2,5 148.2,3.25 148.2,2.4 145,3 146.4,1 147.1,-1.4 144.3,-3.9 145.5,-2.4 146,-1 145.3,-15.1 145.8,2.5 146.5,5.8"/>
<g fill="#00f"><circle cx="139.4" cy="42.2" r="0.55"/><circle cx="145.3" cy="42.6" r="0.55"/><circle cx="143.5" cy="42" r="0.55"/><circle cx="147.6" cy="41.2" r="0.55"/><circle cx="149.7" cy="40.3" r="0.55"/><circle cx="146.8" cy="38.1" r="0.55"/><circle cx="143.5" cy="38.6" r="0.55"/><circle cx="145.85" cy="28.3" r="0.55"/><circle cx="146.4" cy="30.8" r="0.55"/><circle cx="147.5" cy="29.8" r="0.55"/><circle cx="148.5" cy="28.3" r="0.55"/><circle cx="147" cy="27.5" r="0.55"/><circle cx="145.5" cy="27.8" r="0.55"/><circle cx="146.5" cy="23.6" r="0.55"/><circle cx="145.2" cy="22.8" r="0.55"/><circle cx="142" cy="22.5" r="0.55"/><circle cx="146.3" cy="20.3" r="0.55"/><circle cx="145" cy="18" r="0.55"/><circle cx="145.5" cy="17.5" r="0.55"/><circle cx="147.6" cy="16.8" r="0.55"/><circle cx="146.7" cy="14" r="0.55"/><circle cx="145" cy="14.5" r="0.55"/><circle cx="147.2" cy="12.5" r="0.55"/><circle cx="146.6" cy="11" r="0.55"/><circle cx="147.8" cy="9.4" r="0.55"/><circle cx="146" cy="9" r="0.55"/><circle cx="147.5" cy="7.2" r="0.55"/><circle cx="143.4" cy="7.35" r="0.55"/><circle cx="143.5" cy="4.1" r="0.55"/><circle cx="145.3" cy="6.8" r="0.55"/><circle cx="146.2" cy="5" r="0.55"/><circle cx="148.2" cy="3.25" r="0.55"/><circle cx="148.2" cy="2.4" r="0.55"/><circle cx="145" cy="3" r="0.55"/><circle cx="146.4" cy="1" r="0.55"/><circle cx="147.1" cy="-1.4" r="0.55"/><circle cx="144.3" cy="-3.9" r="0.55"/><circle cx="145.5" cy="-2.4" r="0.55"/><circle cx="146" cy="-1" r="0.55"/><circle cx="145.3" cy="-15.1" r="0.55"/><circle cx="145.8" cy="2.5" r="0.55"/><circle cx="146.5" cy="5.8" r="0.55"/></g>
</g></g>
<rect class="ax" x="1229" y="661.4" width="453" height="454.3"/>
<path class="tk" d="M1236.2,1115.7v-8M1300.9,1115.7v-8M1365.6,1115.7v-8M1430.3,1115.7v-8M1495,1115.7v-8M1559.7,1115.7v-8M1624.4,1115.7v-8M1236.2,661.4v8M1300.9,661.4v8M1365.6,661.4v8M1430.3,661.4v8M1495,661.4v8M1559.7,661.4v8M1624.4,661.4v8M1229,726.3h8M1229,791.2h8M1229,856.1h8M1229,921h8M1229,985.9h8M1229,1050.8h8M1682,726.3h-8M1682,791.2h-8M1682,856.1h-8M1682,921h-8M1682,985.9h-8M1682,1050.8h-8"/>
<g class="t" text-anchor="end"><text x="1222" y="666.4">50</text><text x="1222" y="731.3">40</text><text x="1222" y="796.2">30</text><text x="1222" y="861.1">20</text><text x="1222" y="926">10</text><text x="1222" y="990.9">0</text><text x="1222" y="1055.8">−10</text><text x="1222" y="1120.7">−20</text></g>
<g class="t" text-anchor="middle"><text x="1236.2" y="1139">110</text><text x="1300.9" y="1139">120</text><text x="1365.6" y="1139">130</text><text x="1430.3" y="1139">140</text><text x="1495" y="1139">150</text><text x="1559.7" y="1139">160</text><text x="1624.4" y="1139">170</text></g>
<text class="lb" x="1456" y="1166" text-anchor="middle">V3(km/s)</text>
<text class="lb" transform="translate(1169,888) rotate(-90)" text-anchor="middle">V1(km/s)</text>
<text x="1262" y="1092" style="font-size:17px"><tspan font-style="italic">λ</tspan><tspan font-size="11" dy="4">1</tspan><tspan dy="-4">/</tspan><tspan font-style="italic">λ</tspan><tspan font-size="11" dy="4">3</tspan><tspan dy="-4"> ≈ 81.38</tspan></text>

<!-- ============ Time series ============ -->
<g clip-path="url(#cT)">
<!-- RTN -->
<line x1="117" y1="1393.8" x2="1682" y2="1393.8" stroke="#000" stroke-width="1.3" stroke-dasharray="14,8"/>
<g transform="matrix(20.867 0 0 -0.888 117 1393.8)">
<polyline class="ln" stroke="#f00" points="0,-125.7 1,-123.9 2,-123.4 3,-124.3 4,-125.2 5,-125.2 6,-125.2 7,-125.2 8,-125.2 9,-125.7 10,-124.8 11,-124.8 12,-123.4 13,-123.4 14,-122.9 15,-122.5 16,-122.5 17,-122 18,-121.6 19,-122 20,-119.3 21,-121.1 22,-121.1 23,-122.5 24,-122 25,-120.6 26,-120.2 27,-121.1 28,-121.6 29,-121.6 30,-120.6 31,-113.8 32,-114.7 33,-119.7 34,-117.9 35,-116.5 36,-120.2 37,-120.2 38,-117 39,-117.4 40,-119.7 41,-119.7 42,-120.2 43,-121.6 44,-121.6 45,-118.8 46,-119.3 47,-116.5 48,-118.8 49,-118.8 50,-119.3 51,-120.2 52,-116 53,-120.2 54,-122.5 55,-120.2 56,-120.6 57,-120.2 58,-120.6 59,-122 60,-121.1 61,-121.6 62,-122.5 63,-123.4 64,-123.4 65,-122.9 66,-120.6 67,-121.6 68,-123.4 69,-127.5 70,-128.4 71,-128.8 72,-129.8 73,-130.7 74,-130.7 75,-130.7"/>
<polyline class="ln" stroke="#008000" points="0,34.9 1,28.9 2,31 3,32.6 4,33 5,33 6,35.8 7,41.7 8,44 9,41.3 10,42 11,42.5 12,43 13,43.5 14,44 15,45 16,46.3 17,46.8 18,50.5 19,49.5 20,52.3 21,51.4 22,56.9 23,55.5 24,54 25,51.8 26,54.6 27,56.9 28,59.2 29,56.9 30,56.4 31,59.6 32,70.2 33,68.8 34,63.3 35,63.3 36,63.3 37,56.9 38,61 39,68.8 40,66 41,61 42,61 43,61 44,57.8 45,57.3 46,62.4 47,61 48,67.4 49,61 50,61.5 51,61.9 52,60.6 53,67.9 54,61.9 55,53.7 56,60.1 57,58.7 58,60.6 59,60.6 60,56.9 61,60.1 62,57.8 63,57.3 64,56.4 65,55.5 66,55 67,55 68,61 69,57.8 70,55.5 71,43.6 72,38 73,35.8 74,32 75,30.3"/>
<polyline class="ln" stroke="#00f" points="0,-37.6 1,-39.9 2,-40.8 3,-40.4 4,-40.8 5,-40.8 6,-39.4 7,-30.7 8,-29.4 9,-29.4 10,-30.3 11,-28.9 12,-30.7 13,-28.9 14,-28.9 15,-31.2 16,-30.3 17,-27.5 18,-27.5 19,-28.4 20,-28.4 21,-32.1 22,-28.9 23,-26.1 24,-27 25,-33.5 26,-33 27,-30.3 28,-28.9 29,-22.5 30,-18.8 31,-18.3 32,-26.6 33,-22.9 34,-20.2 35,-27 36,-31.2 37,-26.6 38,-21.6 39,-17.9 40,-22.9 41,-22.5 42,-23.9 43,-18.8 44,-18.8 45,-20.2 46,-21.1 47,-21.1 48,-15.1 49,-22.9 50,-22.9 51,-14.7 52,-16.5 53,-12.4 54,-15.6 55,-20.6 56,-16.5 57,-14.2 58,-12.8 59,-7.8 60,-10.1 61,-7.3 62,-17 63,-12.4 64,-8.7 65,-13.3 66,-14.7 67,-15.6 68,-12.4 69,-12.8 70,-7.8 71,-12.4 72,-17.9 73,-11 74,-10.6 75,-14.7"/>
</g>
<!-- Flux rope -->
<line x1="117" y1="1811.7" x2="1682" y2="1811.7" stroke="#000" stroke-width="1.3" stroke-dasharray="14,8"/>
<g transform="matrix(20.867 0 0 -1.2333 117 1811.7)">
<polyline class="ln" stroke="#000" points="0,136.7 1,134.4 2,134.4 3,135 4,135.7 5,136.3 6,136.3 7,137 8,136.7 9,136.7 10,136.7 11,136.5 12,136.5 13,136.3 14,136.3 15,136.3 16,136.3 17,136.3 18,136.3 19,136 20,136.3 21,136.3 22,136.7 23,136.5 24,136.3 25,136.5 26,136.7 27,136.3 28,135.3 29,136 30,136.3 31,136.5 32,136.7 33,136.3 34,136 35,136.3 36,136.5 37,136.5 38,136.5 39,136.5 40,136.7 41,136.7 42,136.7 43,136.5 44,136.3 45,136.5 46,136.5 47,136.5 48,136.3 49,136.3 50,136.5 51,136.3 52,136.7 53,136 54,136.7 55,136 56,136.5 57,136 58,136 59,136 60,136.3 61,136.5 62,136.5 63,136.3 64,136.5 65,136.5 66,136.3 67,136 68,136 69,136.3 70,136.7 71,137 72,136.7 73,136 74,135.7 75,135.5"/>
<polyline class="ln" stroke="#f00" points="0,116.2 1,114.2 2,113.2 3,114.2 4,114.9 5,114.9 6,115.2 7,116.5 8,117.2 9,117.5 10,116.8 11,116.8 12,116.2 13,115.2 14,115.5 15,115.2 16,114.5 17,114.9 18,114.2 19,115.2 20,110.2 21,112.9 22,113.9 23,114.2 24,114.5 25,112.9 26,111.9 27,111.9 28,114.5 29,115.5 30,115.5 31,107.2 32,109.2 33,113.5 34,110.5 35,108.6 36,112.9 37,114.2 38,111.2 39,110.9 40,113.5 41,112.9 42,114.5 43,116.2 44,115.5 45,112.9 46,112.9 47,111.5 48,112.5 49,112.2 50,114.5 51,114.5 52,111.9 53,115.2 54,116.2 55,115.2 56,116.2 57,115.8 58,117.2 59,117.8 60,117.2 61,116.5 62,117.2 63,118.8 64,118.5 65,118.5 66,117.2 67,115.8 68,116.8 69,120.1 70,122.8 71,125.4 72,126.1 73,126.1 74,126.1 75,125.4"/>
<polyline class="ln" stroke="#00f" points="0,68.2 1,64.2 2,65.9 3,66.5 4,67.2 5,67.9 6,67.9 7,68.9 8,68.2 9,68.5 10,67.2 11,68.2 12,67.9 13,69.5 14,69.5 15,69.5 16,72.5 17,72.2 18,72.2 19,71.2 20,74.1 21,73.5 22,79.8 23,75.5 24,74.8 25,76.5 26,78.1 27,79.1 28,79.1 29,79.8 30,73.8 31,71.2 32,73.2 33,85.7 34,82.1 35,76.5 36,80.8 37,83.1 38,75.8 39,75.5 40,79.1 41,80.4 42,76.1 43,77.5 44,74.5 45,72.2 46,73.2 47,76.5 48,75.5 49,75.8 50,76.5 51,77.1 52,72.5 53,72.5 54,74.8 55,72.5 56,70.5 57,72.2 58,69.8 59,69.8 60,66.5 61,66.2 62,66.5 63,71.2 64,67.9 65,64.6 66,66.5 67,66.9 68,68.2 69,70.5 70,68.2 71,63.2 72,59.3 73,55 74,48.3 75,50.7"/>
<polyline class="ln" stroke="#008000" points="0,-23.1 1,-28.8 2,-28.1 3,-27.1 4,-26.8 5,-27.1 6,-25.1 7,-13.9 8,-11.2 9,-12.9 10,-12.9 11,-12.2 12,-11.9 13,-10.6 14,-9.9 15,-10.6 16,-9.2 17,-4.9 18,-5.9 19,-4.6 20,-5.3 21,-3.6 22,-2 23,-1.3 24,-3 25,-8.9 26,-6.6 27,-3 28,0.4 29,3 30,4.7 31,7 32,8.6 33,10.9 34,8.6 35,3.7 36,1.3 37,-0.3 38,5.3 39,14.6 40,8.6 41,5.3 42,4.7 43,8.6 44,6.3 45,4.7 46,7 47,6.3 48,15.9 49,5.3 50,5.3 51,11.9 52,9.6 53,17.9 54,10.9 55,1.7 56,9.6 57,10.3 58,12.9 59,16.2 60,11.9 61,16.6 62,8 63,10.3 64,11.9 65,8.3 66,6.3 67,6.3 68,13.6 69,10.3 70,12.3 71,0.4 72,-7.9 73,-5.3 74,-8.2 75,-11.2"/>
</g>
<!-- Solar wind -->
<g transform="matrix(20.867 0 0 -0.49333 117 2144.67)">
<polyline class="ln" stroke="#f00" points="0,299.3 1,297.3 2,297.3 3,301.4 4,301.4 5,306.1 6,304.7 7,305.4 8,304.1 9,303.4 10,302.7 11,302.7 12,303.4 13,303.4 14,304.7 15,303.4 16,306.1 17,306.8 18,306.8 19,311.5 20,308.1 21,312.8 22,310.1 23,310.1 24,308.8 25,308.8 26,309.5 27,310.8 28,311.5 29,309.5 30,308.8 31,309.5 32,320.3 33,315.5 34,313.5 35,316.9 36,314.9 37,309.5 38,313.5 39,316.2 40,316.2 41,311.5 42,313.5 43,312.2 44,310.1 45,308.8 46,311.5 47,311.5 48,316.9 49,310.1 50,310.8 51,310.1 52,310.1 53,316.9 54,311.5 55,306.8 56,310.1 57,307.4 58,309.5 59,309.5 60,306.8 61,310.1 62,311.5 63,307.4 64,305.4 65,306.8 66,305.4 67,307.4 68,310.1 69,309.5 70,307.4 71,305.4 72,300 73,295.9 74,295.9 75,294.6"/>
<polyline class="ln" stroke="#008000" points="0,-61.5 1,-63.5 2,-61 3,-65.5 4,-63.5 5,-66 6,-60 7,-51.4 8,-52.7 9,-54.7 10,-54 11,-54 12,-52.7 13,-53.4 14,-51.4 15,-50.7 16,-50.7 17,-49.4 18,-48 19,-46.6 20,-41.9 21,-43.3 22,-44.6 23,-46.6 24,-48 25,-44.6 26,-39.2 27,-39.9 28,-40.5 29,-40.5 30,-37.8 31,-27.7 32,-23 33,-37.8 34,-31 35,-39.2 36,-34.4 37,-28.4 38,-29.7 39,-37.2 40,-31.1 41,-31.1 42,-38.5 43,-36.5 44,-31.1 45,-31.1 46,-28.4 47,-35.8 48,-36.5 49,-34.4 50,-35.8 51,-24.3 52,-36.5 53,-42.6 54,-38.5 55,-41.9 56,-37.2 57,-37.8 58,-41.9 59,-37.8 60,-41.2 61,-41.2 62,-39.9 63,-43.3 64,-48 65,-41.9 66,-35.8 67,-41.9 68,-48 69,-54.7 70,-62.8 71,-64.9 72,-67.6 73,-66.9 74,-65.5 75,-64"/>
<polyline class="ln" stroke="#00f" points="0,-39.2 1,-39.9 2,-41.9 3,-41.2 4,-43.9 5,-42.6 6,-41.9 7,-27 8,-32.4 9,-31.1 10,-32.4 11,-30.4 12,-32.4 13,-31.8 14,-37.2 15,-36.5 16,-36.5 17,-29.7 18,-34.5 19,-32.4 20,-31.8 21,-35.1 22,-31.1 23,-29.7 24,-28.4 25,-40.5 26,-35.8 27,-33.1 28,-33.1 29,-22.3 30,-15.5 31,-20.9 32,-27.7 33,-21.6 34,-16.2 35,-31.1 36,-34.5 37,-24.3 38,-17.6 39,-15.5 40,-23 41,-23 42,-23 43,-14.9 44,-16.2 45,-23 46,-20.9 47,-20.9 48,-14.2 49,-26.4 50,-31.1 51,-12.2 52,-19.6 53,-4 54,-15.5 55,-22.3 56,-10.8 57,-14.2 58,-9.5 59,-5.4 60,-9.5 61,-4 62,-16.2 63,-10.8 64,-8.8 65,-10.1 66,-15.5 67,-16.2 68,-10.8 69,-10.8 70,-4 71,-12.2 72,-18.2 73,-9.5 74,-9.5 75,-17.6"/>
</g>
<!-- Beta -->
<g transform="matrix(20.867 0 0 -6371.4 117 2846.57)">
<polyline class="ln" stroke="#00f" points="0,0.0683 1,0.077 2,0.0803 3,0.074 4,0.0739 5,0.064 6,0.0685 7,0.0646 8,0.0661 9,0.0662 10,0.0713 11,0.067 12,0.0695 13,0.0668 14,0.0701 15,0.0692 16,0.0711 17,0.0656 18,0.0684 19,0.0758 20,0.068 21,0.0604 22,0.0623 23,0.0635 24,0.0593 25,0.0592 26,0.0583 27,0.062 28,0.0614 29,0.0603 30,0.0591 31,0.0639 32,0.0537 33,0.0634 34,0.0587 35,0.0595 36,0.0567 37,0.0617 38,0.061 39,0.0557 40,0.0547 41,0.0641 42,0.0594 43,0.0616 44,0.0588 45,0.0674 46,0.0644 47,0.0604 48,0.0631 49,0.0678 50,0.0678 51,0.0605 52,0.0641 53,0.0554 54,0.0568 55,0.0646 56,0.0599 57,0.061 58,0.0639 59,0.0574 60,0.0656 61,0.0656 62,0.0606 63,0.0605 64,0.065 65,0.0614 66,0.0635 67,0.0669 68,0.0654 69,0.0609 70,0.0635 71,0.0648 72,0.0712 73,0.0766 74,0.0796 75,0.0751"/>
</g>
<!-- Density -->
<g transform="matrix(20.867 0 0 -1.85 117 3341.7)">
<polyline class="ln" stroke="#00f" points="0,354.6 1,367.6 2,367.9 3,356.6 4,355.5 5,332.6 6,336 7,322 8,328.8 9,335.5 10,340 11,335.5 12,338.7 13,334.8 14,339.5 15,332.1 16,336.4 17,324 18,330.6 19,342.3 20,321.6 21,301.4 22,308.5 23,314.8 24,308.5 25,311.2 26,300 27,307 28,307 29,307.4 30,302.7 31,309.4 32,273.3 33,288.8 34,304.1 35,288.3 36,297.3 37,309 38,294.6 39,282 40,279.3 41,304.1 42,295.5 43,296.9 44,296.9 45,313.5 46,304.5 47,297.5 48,306 49,318 50,315.9 51,299.1 52,305.4 53,278.4 54,295.5 55,317.5 56,298.2 57,312.6 58,313 59,299.5 60,314.8 61,313.2 62,314.5 63,306.8 64,316.2 65,309.4 66,321.6 67,325.6 68,308.1 69,310.5 70,315.7 71,331.5 72,356.8 73,368.8 74,378.2 75,371.2"/>
</g>
<!-- Temperature -->
<g transform="matrix(20.867 0 0 -12333.3 117 4428)">
<polyline class="ln" stroke="#00f" points="0,0.10281 1,0.10849 2,0.11295 3,0.10876 4,0.11051 5,0.10227 6,0.10951 7,0.10654 8,0.10705 9,0.10497 10,0.11146 11,0.10592 12,0.10862 13,0.1057 14,0.10911 15,0.11065 16,0.11168 17,0.10759 18,0.10835 19,0.11735 20,0.11389 21,0.10654 22,0.10781 23,0.10781 24,0.10327 25,0.103 26,0.1043 27,0.10849 28,0.10673 29,0.10362 30,0.1033 31,0.11065 32,0.10538 33,0.11762 34,0.10381 35,0.1106 36,0.10173 37,0.10659 38,0.11051 39,0.10632 40,0.10546 41,0.11349 42,0.10808 43,0.11105 44,0.10551 45,0.11497 46,0.11186 47,0.10789 48,0.1087 49,0.11335 50,0.11411 51,0.10714 52,0.11146 53,0.10476 54,0.10276 55,0.108 56,0.10632 57,0.10349 58,0.10768 59,0.10132 60,0.11051 61,0.1106 62,0.10276 63,0.1039 64,0.10916 65,0.10551 66,0.10524 67,0.10876 68,0.11227 69,0.10349 70,0.10638 71,0.1047 72,0.10611 73,0.10903 74,0.11043 75,0.10686"/>
</g>
</g>

<!-- Frames, ticks, labels for time series -->
<g class="ax"><rect x="117" y="1305" width="1565" height="222"/><rect x="117" y="1639" width="1565" height="222"/><rect x="117" y="1972" width="1565" height="222"/><rect x="117" y="2305" width="1565" height="223"/><rect x="117" y="2638.7" width="1565" height="222"/><rect x="117" y="2972.7" width="1565" height="222"/></g>
<path class="tk" d="M222,1527v-8M430.7,1527v-8M639.3,1527v-8M848,1527v-8M1056.7,1527v-8M1265.3,1527v-8M1474,1527v-8M222,1305v8M430.7,1305v8M639.3,1305v8M848,1305v8M1056.7,1305v8M1265.3,1305v8M1474,1305v8
M117,1349.4h8M117,1393.8h8M117,1438.2h8M117,1482.6h8M1682,1349.4h-8M1682,1393.8h-8M1682,1438.2h-8M1682,1482.6h-8
M222,1861v-8M430.7,1861v-8M639.3,1861v-8M848,1861v-8M1056.7,1861v-8M1265.3,1861v-8M1474,1861v-8M222,1639v8M430.7,1639v8M639.3,1639v8M848,1639v8M1056.7,1639v8M1265.3,1639v8M1474,1639v8
M117,1663.7h8M117,1688.3h8M117,1713h8M117,1737.7h8M117,1762.3h8M117,1787h8M117,1811.7h8M117,1836.3h8M1682,1663.7h-8M1682,1688.3h-8M1682,1713h-8M1682,1737.7h-8M1682,1762.3h-8M1682,1787h-8M1682,1811.7h-8M1682,1836.3h-8
M222,2194v-8M430.7,2194v-8M639.3,2194v-8M848,2194v-8M1056.7,2194v-8M1265.3,2194v-8M1474,2194v-8M222,1972v8M430.7,1972v8M639.3,1972v8M848,1972v8M1056.7,1972v8M1265.3,1972v8M1474,1972v8
M117,1996.7h8M117,2021.3h8M117,2046h8M117,2070.7h8M117,2095.3h8M117,2120h8M117,2144.7h8M117,2169.3h8M1682,1996.7h-8M1682,2021.3h-8M1682,2046h-8M1682,2070.7h-8M1682,2095.3h-8M1682,2120h-8M1682,2144.7h-8M1682,2169.3h-8
M222,2528v-8M430.7,2528v-8M639.3,2528v-8M848,2528v-8M1056.7,2528v-8M1265.3,2528v-8M1474,2528v-8M222,2305v8M430.7,2305v8M639.3,2305v8M848,2305v8M1056.7,2305v8M1265.3,2305v8M1474,2305v8
M117,2336.9h8M117,2368.7h8M117,2400.6h8M117,2432.4h8M117,2464.3h8M117,2496.1h8M1682,2336.9h-8M1682,2368.7h-8M1682,2400.6h-8M1682,2432.4h-8M1682,2464.3h-8M1682,2496.1h-8
M222,2860.7v-8M430.7,2860.7v-8M639.3,2860.7v-8M848,2860.7v-8M1056.7,2860.7v-8M1265.3,2860.7v-8M1474,2860.7v-8M222,2638.7v8M430.7,2638.7v8M639.3,2638.7v8M848,2638.7v8M1056.7,2638.7v8M1265.3,2638.7v8M1474,2638.7v8
M117,2675.7h8M117,2712.7h8M117,2749.7h8M117,2786.7h8M117,2823.7h8M1682,2675.7h-8M1682,2712.7h-8M1682,2749.7h-8M1682,2786.7h-8M1682,2823.7h-8
M222,3194.7v-8M430.7,3194.7v-8M639.3,3194.7v-8M848,3194.7v-8M1056.7,3194.7v-8M1265.3,3194.7v-8M1474,3194.7v-8M222,2972.7v8M430.7,2972.7v8M639.3,2972.7v8M848,2972.7v8M1056.7,2972.7v8M1265.3,2972.7v8M1474,2972.7v8
M117,2997.4h8M117,3022h8M117,3046.7h8M117,3071.4h8M117,3096h8M117,3120.7h8M117,3145.4h8M117,3170h8M1682,2997.4h-8M1682,3022h-8M1682,3046.7h-8M1682,3071.4h-8M1682,3096h-8M1682,3120.7h-8M1682,3145.4h-8M1682,3170h-8"/>

<!-- Titles -->
<g class="ti" text-anchor="middle">
<text x="900" y="1296">Magnetic Field (RTN Frame)</text>
<text x="900" y="1629">Magnetic Field (Flux Rope Frame)</text>
<text x="900" y="1962">Solar Wind Velocity (RTN Frame)</text>
<text x="900" y="2295">Plasma Beta</text>
<text x="900" y="2628">Proton Number Density</text>
<text x="900" y="2962">Proton Temperature and <tspan font-style="italic" font-family="Liberation Serif, serif">T<tspan font-size="13" dy="4">e</tspan><tspan dy="-4">/T</tspan><tspan font-size="13" dy="4">p</tspan></tspan></text>
</g>

<!-- Y tick labels -->
<g class="t" text-anchor="end">
<text x="110" y="1310">100</text><text x="110" y="1354.4">50</text><text x="110" y="1398.8">0</text><text x="110" y="1443.2">−50</text><text x="110" y="1487.6">−100</text><text x="110" y="1532">−150</text>
<text x="110" y="1644">140</text><text x="110" y="1668.7">120</text><text x="110" y="1693.3">100</text><text x="110" y="1718">80</text><text x="110" y="1742.7">60</text><text x="110" y="1767.3">40</text><text x="110" y="1792">20</text><text x="110" y="1816.7">0</text><text x="110" y="1841.3">−20</text><text x="110" y="1866">−40</text>
<text x="110" y="1977">350</text><text x="110" y="2001.7">300</text><text x="110" y="2026.3">250</text><text x="110" y="2051">200</text><text x="110" y="2075.7">150</text><text x="110" y="2100.3">100</text><text x="110" y="2125">50</text><text x="110" y="2149.7">0</text><text x="110" y="2174.3">−50</text><text x="110" y="2199">−100</text>
<text x="110" y="2310">0.085</text><text x="110" y="2341.9">0.080</text><text x="110" y="2373.7">0.075</text><text x="110" y="2405.6">0.070</text><text x="110" y="2437.4">0.065</text><text x="110" y="2469.3">0.060</text><text x="110" y="2501.1">0.055</text><text x="110" y="2533">0.050</text>
<text x="110" y="2643.7">380</text><text x="110" y="2680.7">360</text><text x="110" y="2717.7">340</text><text x="110" y="2754.7">320</text><text x="110" y="2791.7">300</text><text x="110" y="2828.7">280</text><text x="110" y="2865.7">260</text>
<text x="110" y="2977.7">0.118</text><text x="110" y="3002.4">0.116</text><text x="110" y="3027">0.114</text><text x="110" y="3051.7">0.112</text><text x="110" y="3076.4">0.110</text><text x="110" y="3101">0.108</text><text x="110" y="3125.7">0.106</text><text x="110" y="3150.4">0.104</text><text x="110" y="3175">0.102</text><text x="110" y="3199.7">0.100</text>
</g>

<!-- X tick labels (time) -->
<g class="t" text-anchor="middle">
<text x="222" y="1550">12/26 16:43:09</text><text x="430.7" y="1550">12/26 16:43:19</text><text x="639.3" y="1550">12/26 16:43:29</text><text x="848" y="1550">12/26 16:43:39</text><text x="1056.7" y="1550">12/26 16:43:49</text><text x="1265.3" y="1550">12/26 16:43:59</text><text x="1474" y="1550">12/26 16:44:09</text><text x="1682" y="1550">12/26 16:44:19</text>
<text x="222" y="1884">12/26 16:43:09</text><text x="430.7" y="1884">12/26 16:43:19</text><text x="639.3" y="1884">12/26 16:43:29</text><text x="848" y="1884">12/26 16:43:39</text><text x="1056.7" y="1884">12/26 16:43:49</text><text x="1265.3" y="1884">12/26 16:43:59</text><text x="1474" y="1884">12/26 16:44:09</text><text x="1682" y="1884">12/26 16:44:19</text>
<text x="222" y="2217">12/26 16:43:09</text><text x="430.7" y="2217">12/26 16:43:19</text><text x="639.3" y="2217">12/26 16:43:29</text><text x="848" y="2217">12/26 16:43:39</text><text x="1056.7" y="2217">12/26 16:43:49</text><text x="1265.3" y="2217">12/26 16:43:59</text><text x="1474" y="2217">12/26 16:44:09</text><text x="1682" y="2217">12/26 16:44:19</text>
<text x="222" y="2551">12/26 16:43:09</text><text x="430.7" y="2551">12/26 16:43:19</text><text x="639.3" y="2551">12/26 16:43:29</text><text x="848" y="2551">12/26 16:43:39</text><text x="1056.7" y="2551">12/26 16:43:49</text><text x="1265.3" y="2551">12/26 16:43:59</text><text x="1474" y="2551">12/26 16:44:09</text><text x="1682" y="2551">12/26 16:44:19</text>
<text x="222" y="2884">12/26 16:43:09</text><text x="430.7" y="2884">12/26 16:43:19</text><text x="639.3" y="2884">12/26 16:43:29</text><text x="848" y="2884">12/26 16:43:39</text><text x="1056.7" y="2884">12/26 16:43:49</text><text x="1265.3" y="2884">12/26 16:43:59</text><text x="1474" y="2884">12/26 16:44:09</text><text x="1682" y="2884">12/26 16:44:19</text>
<text x="222" y="3218">12/26 16:43:09</text><text x="430.7" y="3218">12/26 16:43:19</text><text x="639.3" y="3218">12/26 16:43:29</text><text x="848" y="3218">12/26 16:43:39</text><text x="1056.7" y="3218">12/26 16:43:49</text><text x="1265.3" y="3218">12/26 16:43:59</text><text x="1474" y="3218">12/26 16:44:09</text><text x="1682" y="3218">12/26 16:44:19</text>
</g>

<!-- Y axis labels -->
<g class="lb" text-anchor="middle">
<text transform="translate(50,1416) rotate(-90)">B(nT)</text>
<text transform="translate(59,1750) rotate(-90)">B(nT)</text>
<text transform="translate(46,2083) rotate(-90)">Vsw(km/s)</text>
<text transform="translate(46,2416) rotate(-90)"><tspan font-style="italic">β</tspan><tspan font-size="10" font-style="italic" dy="3">p</tspan></text>
<text transform="translate(61,2750) rotate(-90)">Np(#/cc)</text>
<text transform="translate(44,3084) rotate(-90)">Tp(10<tspan font-size="10" dy="-6">6</tspan><tspan dy="6">K)</tspan></text>
</g>

<!-- Legends -->
<rect x="1604" y="1312" width="71" height="72" fill="#fff" stroke="#000" stroke-width="1.5"/>
<line x1="1612" y1="1324.5" x2="1635" y2="1324.5" stroke="#f00" stroke-width="2"/><text x="1648" y="1329.5" style="font-size:14px">Br</text>
<line x1="1612" y1="1346.5" x2="1635" y2="1346.5" stroke="#008000" stroke-width="2"/><text x="1648" y="1351.5" style="font-size:14px">Bt</text>
<line x1="1612" y1="1369.5" x2="1635" y2="1369.5" stroke="#00f" stroke-width="2"/><text x="1648" y="1374.5" style="font-size:14px">Bn</text>

<rect x="1601" y="1645" width="74" height="95" fill="#fff" stroke="#000" stroke-width="1.5"/>
<line x1="1610" y1="1658" x2="1633" y2="1658" stroke="#f00" stroke-width="2"/><text x="1645" y="1663" style="font-size:14px">Bx'</text>
<line x1="1610" y1="1680" x2="1633" y2="1680" stroke="#008000" stroke-width="2"/><text x="1645" y="1685" style="font-size:14px">By'</text>
<line x1="1610" y1="1702" x2="1633" y2="1702" stroke="#00f" stroke-width="2"/><text x="1645" y="1707" style="font-size:14px">Bz'</text>
<line x1="1610" y1="1725" x2="1633" y2="1725" stroke="#000" stroke-width="2"/><text x="1645" y="1730" style="font-size:14px">|B|</text>

<rect x="1604" y="1979" width="72" height="72" fill="#fff" stroke="#000" stroke-width="1.5"/>
<line x1="1613" y1="1992" x2="1635" y2="1992" stroke="#f00" stroke-width="2"/><text x="1648" y="1997" style="font-size:14px">Vr</text>
<line x1="1613" y1="2014" x2="1635" y2="2014" stroke="#008000" stroke-width="2"/><text x="1648" y="2019" style="font-size:14px">Vt</text>
<line x1="1613" y1="2037" x2="1635" y2="2037" stroke="#00f" stroke-width="2"/><text x="1648" y="2042" style="font-size:14px">Vn</text>

<rect x="124" y="2979" width="71" height="28" fill="#fff" stroke="#000" stroke-width="1.5"/>
<line x1="134" y1="2993" x2="156" y2="2993" stroke="#00f" stroke-width="2"/><text x="168" y="2998" style="font-size:14px">Tp</text>
</svg>
</body></html>
